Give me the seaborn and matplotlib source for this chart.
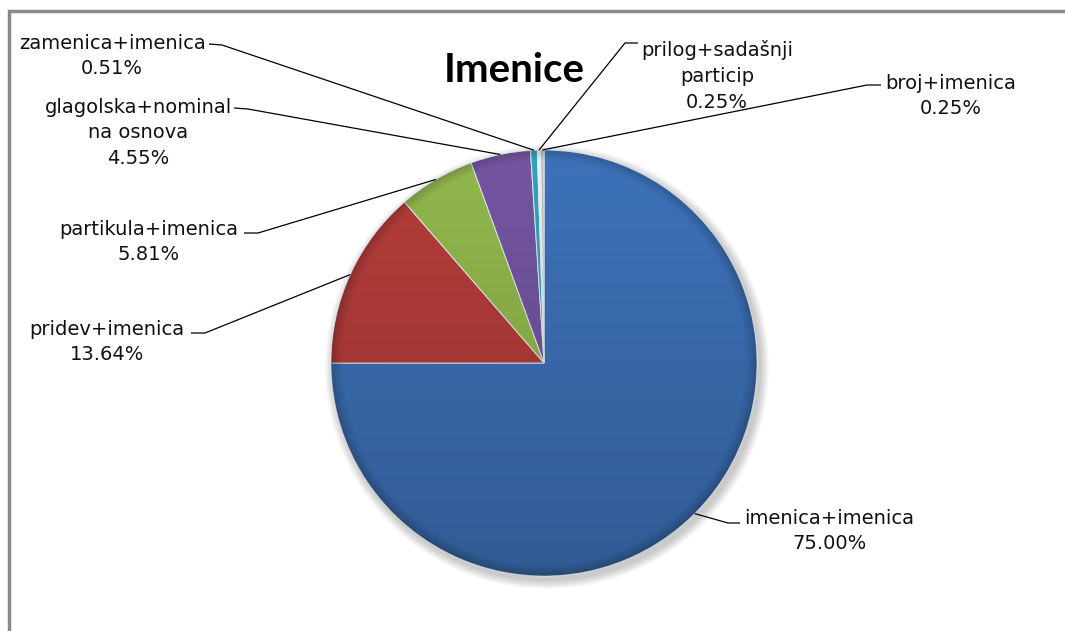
import numpy as np
import matplotlib.pyplot as plt
import seaborn as sns
from matplotlib.patches import Circle

# data
labels = ["imenica+imenica", "pridev+imenica", "partikula+imenica",
          "glagolska+nominal\nna osnova", "zamenica+imenica",
          "prilog+sadašnji\nparticip", "broj+imenica"]
shares = [75.00, 13.64, 5.81, 4.55, 0.51, 0.25, 0.25]
colors = ["#3D72B9", "#B53D3A", "#93B84D", "#7456A1", "#31A3BC", "#F2F2F2", "#BEBEBE"]

sns.set_theme(style="white")
plt.rcParams['font.family'] = ['DejaVu Sans']

W, H = 1065, 631
def P(y):
    # pixel row -> data y
    return H - y

fig = plt.figure(figsize=(10.65, 6.31), dpi=100)
ax = fig.add_axes([0, 0, 1, 1])

cx, cy, r = 544, P(363), 213

# soft shadow under the pie
for k in range(7):
    ax.add_patch(Circle((cx + 3, cy - 4), r + 1 + k * 1.3, color="black",
                        alpha=0.03, lw=0, zorder=0))

wedges, _ = ax.pie(shares, colors=colors, startangle=90, counterclock=False,
                   center=(cx, cy), radius=r,
                   wedgeprops=dict(edgecolor="#e6ecf4", linewidth=0.7))

# light-to-dark shading over the pie
yy, xx = np.mgrid[-1:1:300j, -1:1:300j]
rr = np.sqrt(xx ** 2 + yy ** 2)
shade = np.zeros((300, 300, 4))
dark = 0.10 * (yy + 1) + 0.18 * np.clip(rr - 0.95, 0, 0.05) / 0.05
shade[..., 3] = np.clip(dark, 0, 0.4)
clip = Circle((cx, cy), r, transform=ax.transData)
im = ax.imshow(shade, extent=(cx - r, cx + r, cy - r, cy + r), origin="upper",
               zorder=3, interpolation="bilinear")
im.set_clip_path(clip)

# label layout (text centre, elbow start, elbow end) in pixels
label_xy = [(829, 531), (107, 342), (149, 242), (138, 133),
            (112, 56), (717, 76), (951, 96)]
elbows = [((728, 523), (740, 523)), ((205, 333), (191, 333)),
          ((258, 233), (244, 233)), ((248, 109), (234, 108)),
          ((222, 45), (209, 44)), ((625, 43), (638, 43)),
          ((867, 85), (881, 85))]

for w, lab, val, (tx, ty), (e1, e2) in zip(wedges, labels, shares, label_xy, elbows):
    mid = np.deg2rad((w.theta1 + w.theta2) / 2)
    px = cx + r * np.cos(mid)
    py = cy + r * np.sin(mid)
    ax.plot([px, e1[0], e2[0]], [py, P(e1[1]), P(e2[1])], color="black",
            lw=0.9, zorder=4, solid_capstyle="butt")
    ax.text(tx, P(ty), f"{lab}\n{val:.2f}%", ha="center", va="center",
            fontsize=14, linespacing=1.45, color="#111111", zorder=5)

ax.text(514, P(70), "Imenice", ha="center", va="center", fontsize=29,
        fontweight="bold", fontfamily="Lato", color="black")

# chart frame (only left and top visible)
ax.plot([9, 9, W + 5], [-5, P(11), P(11)], color="#8a8a8a", lw=2.5,
        solid_joinstyle="miter")

ax.set_xlim(0, W)
ax.set_ylim(0, H)
ax.set_aspect("equal")
ax.axis("off")

plt.savefig("out.png", dpi=100)
